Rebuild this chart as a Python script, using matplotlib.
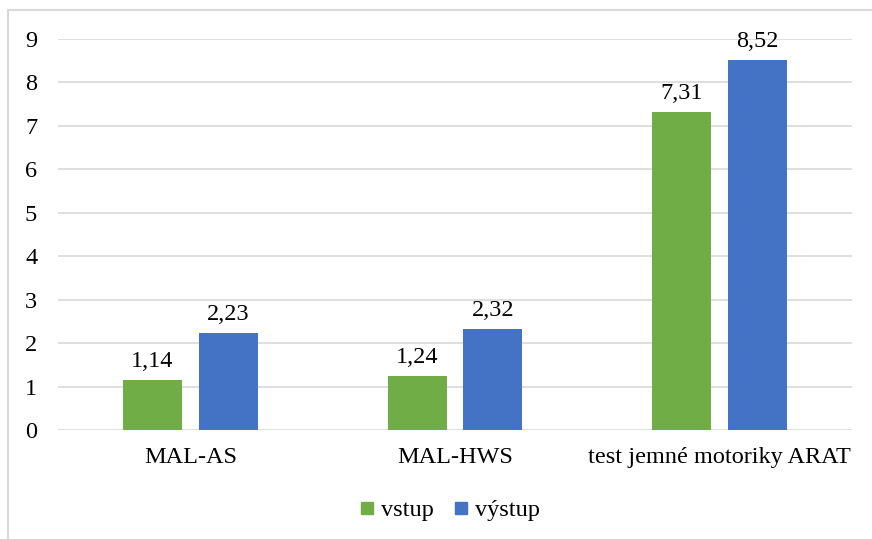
import matplotlib
matplotlib.use("Agg")
import matplotlib.pyplot as plt
from matplotlib.lines import Line2D
import numpy as np

categories = ["MAL-AS", "MAL-HWS", "test jemné motoriky ARAT"]
vstup = [1.14, 1.24, 7.31]
vystup = [2.23, 2.32, 8.52]
series_names = ["vstup", "výstup"]
colors = ["#70AD47", "#4472C4"]
yticks = list(range(0, 10))

plt.rcParams['font.family'] = ['Liberation Serif', 'DejaVu Serif']

fig = plt.figure(figsize=(8.72, 5.39), dpi=100)
ax = fig.add_axes([58/872, 1-430/539, (852-58)/872, (430-39)/539])

x = np.arange(len(categories))
w = 0.223
off = 0.143
fs = 17.5

for vals, dx, c in [(vstup, -off, colors[0]), (vystup, off, colors[1])]:
    bars = ax.bar(x + dx, vals, width=w, color=c, zorder=3)
    for b, v in zip(bars, vals):
        ax.annotate(f"{v:.2f}".replace(".", ","), (b.get_x() + b.get_width()/2, v),
                    xytext=(0, 6), textcoords="offset points", ha="center", va="bottom",
                    fontsize=fs, color="#000000")

ax.set_xlim(-0.5, len(categories) - 0.5)
ax.set_ylim(0, 9)
ax.set_yticks(yticks)
ax.set_yticklabels([str(t) for t in yticks], fontsize=fs)
ax.set_xticks(x)
ax.set_xticklabels(categories, fontsize=fs)
ax.tick_params(axis='both', length=0)
ax.tick_params(axis='y', pad=15)
ax.tick_params(axis='x', pad=12)
ax.grid(axis='y', color="#D9D9D9", linewidth=1.2, zorder=0)
for s in ax.spines.values():
    s.set_visible(False)

handles = [Line2D([], [], marker='s', linestyle='none', markersize=9,
                  markerfacecolor=c, markeredgecolor=c) for c in colors]
fig.legend(handles, series_names, loc='center', bbox_to_anchor=(0.513, 1-510/539),
           ncol=2, frameon=False, fontsize=fs, handletextpad=0.1, columnspacing=0.6,
           handlelength=1.0)

# partial chart border (top and left)
fig.add_artist(Line2D([8/872, 1.0], [1-10/539, 1-10/539], transform=fig.transFigure,
                      color="#D9D9D9", linewidth=1.5))
fig.add_artist(Line2D([8/872, 8/872], [1-10/539, 0.0], transform=fig.transFigure,
                      color="#D9D9D9", linewidth=1.5))

fig.savefig("out.png", dpi=100, facecolor="white")
